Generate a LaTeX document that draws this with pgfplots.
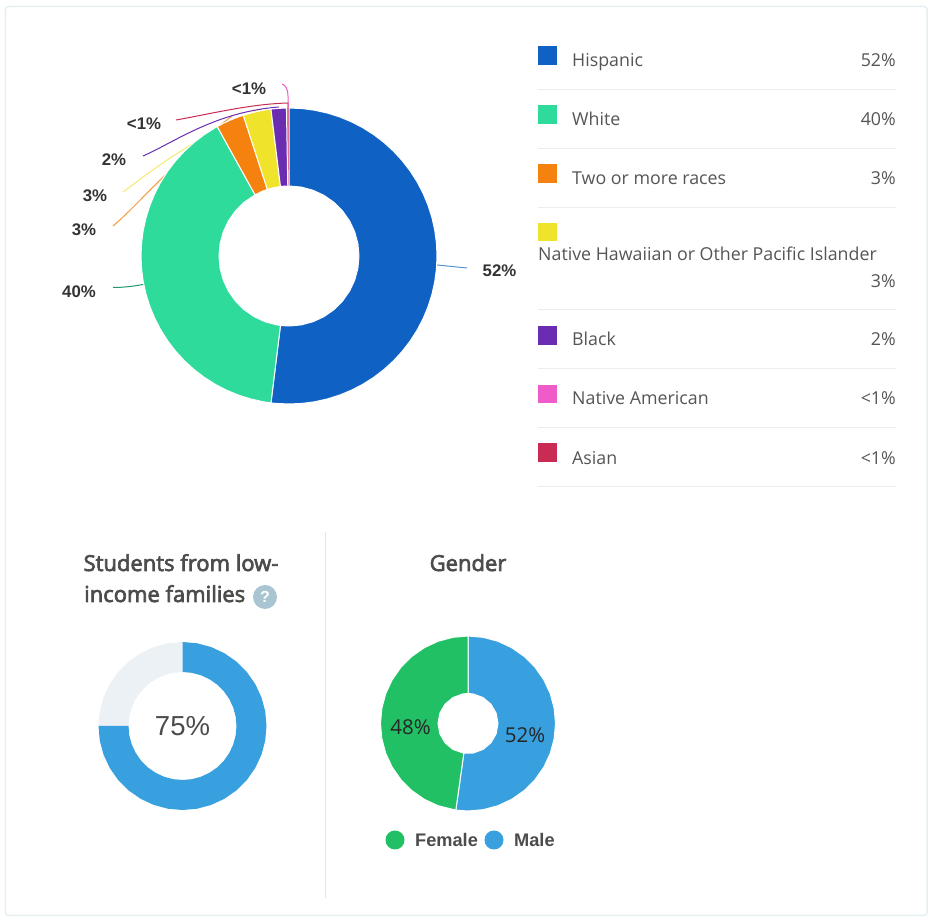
\documentclass[border=0pt]{standalone}
\usepackage{fontspec}
\usepackage{pgfplots}
\pgfplotsset{compat=1.18}
\usepgfplotslibrary{polar}
\setmainfont{Open Sans}
\newfontfamily\semi[FakeBold=3]{Open Sans}
\newfontfamily\lib{Liberation Sans}
\definecolor{chis}{HTML}{0F62C4}
\definecolor{cwhi}{HTML}{2EDB9B}
\definecolor{ctwo}{HTML}{F5820F}
\definecolor{cnat}{HTML}{F0E32C}
\definecolor{cbla}{HTML}{6A2CB0}
\definecolor{cama}{HTML}{EF5BC8}
\definecolor{casi}{HTML}{C92B55}
\definecolor{cblue}{HTML}{38A0DE}
\definecolor{cgreen}{HTML}{22C065}
\definecolor{cgrey}{HTML}{EBF1F4}
\definecolor{ctext}{HTML}{555555}
\definecolor{csep}{HTML}{ECEEEE}
\pgfplotsset{donut/.style={scale only axis, hide axis, clip=false, xmin=0, xmax=360, ymin=0, xtick=\empty, ytick=\empty, anchor=center},
 slice/.style={no markers, draw=white, line width=1bp, fill=#1}}
\newcommand{\fs}[1]{\fontsize{#1bp}{#1bp}\selectfont}
\begin{document}
\begin{tikzpicture}
\fill[white] (0,0) rectangle (929bp,918bp);
\begin{scope}[x=1bp,y=-1bp,yshift=918bp]
% card
\draw[color={rgb,255:red,230;green,240;blue,243},line width=1.5bp,rounded corners=3bp] (5.5,6.5) rectangle (927,915.5);
\draw[color={rgb,255:red,227;green,230;blue,232},line width=1bp] (325,532) -- (325,898);
% leader lines
\draw[cwhi!70!black,line width=1bp] (113,287.5) .. controls (125,287.5) and (135,286) .. (146,284);
\draw[chis!70!white,line width=1bp] (437,265) -- (467,268);
\draw[ctwo!80!white,line width=1bp] (113,226) .. controls (135,208) and (175,160) .. (232,116);
\draw[cnat!70!white,line width=1bp] (123,192) .. controls (150,172) and (190,140) .. (258,110);
\draw[cbla,line width=1bp] (143,156) .. controls (175,142) and (215,112) .. (279,107);
\draw[casi,line width=1bp] (176,120) .. controls (210,114) and (250,104) .. (288,103) -- (288,108);
\draw[cama,line width=1bp] (282,84) .. controls (286,85) and (288,90) .. (288,96) -- (288,108);
% leader labels
\begin{scope}[every node/.style={inner sep=0pt,text=black!80,font=\lib\bfseries\fs{16.8}}]
\node at (249,89) {<1\%};
\node at (144,124) {<1\%};
\node at (114,160) {2\%};
\node at (95,196) {3\%};
\node at (84,230) {3\%};
\node at (79,292) {40\%};
\node at (499.5,270.5) {52\%};
\end{scope}
% legend
\fill[chis] (538,46) rectangle (557,65);
\fill[cwhi] (538,105) rectangle (557,124);
\fill[ctwo] (538,164) rectangle (557,183);
\fill[cnat] (538,223) rectangle (557,241);
\fill[cbla] (538,326) rectangle (557,345);
\fill[cama] (538,385) rectangle (557,403);
\fill[casi] (538,443) rectangle (557,462);
\foreach \y in {89.7,148.7,207.7,309.7,368.7,427.7,486.7} \draw[csep,line width=1bp] (538,\y) -- (896,\y);
\begin{scope}[every node/.style={inner sep=0pt,text=ctext,font=\fs{17.8}}]
\node[anchor=base west] at (572,66.5) {Hispanic};
\node[anchor=base east] at (896,66.5) {52\%};
\node[anchor=base west] at (572,125.5) {White};
\node[anchor=base east] at (896,125.5) {40\%};
\node[anchor=base west] at (572,184.5) {Two or more races};
\node[anchor=base east] at (896,184.5) {3\%};
\node[anchor=base west] at (538,260.5) {Native Hawaiian or Other Pacific Islander};
\node[anchor=base east] at (896,287.5) {3\%};
\node[anchor=base west] at (572,345.5) {Black};
\node[anchor=base east] at (896,345.5) {2\%};
\node[anchor=base west] at (572,404.5) {Native American};
\node[anchor=base east] at (896,404.5) {<1\%};
\node[anchor=base west] at (572,464.5) {Asian};
\node[anchor=base east] at (896,464.5) {<1\%};
\end{scope}
% titles
\begin{scope}[every node/.style={inner sep=0pt,text=black!70,font=\semi\fs{22}}]
\node[anchor=base] at (181,571) {Students from low-};
\node[anchor=base west] at (84,602) {income families};
\node[anchor=base] at (468,571) {Gender};
\end{scope}
\fill[color={rgb,255:red,169;green,197;blue,210}] (265,597) circle (12);
\node[text=white,font=\lib\bfseries\fs{16},inner sep=0pt] at (265,597) {?};
% gender legend
\fill[cgreen] (395,840) circle (9.5);
\fill[cblue] (494,840) circle (9.5);
\node[anchor=base west,inner sep=0pt,text=black!70,font=\lib\bfseries\fs{18.2}] at (415,847) {Female};
\node[anchor=base west,inner sep=0pt,text=black!70,font=\lib\bfseries\fs{18.2}] at (514,847) {Male};
\end{scope}
% ---- ethnicity donut, angle in degrees, radius in px
\begin{polaraxis}[donut, width=296bp, height=296bp, ymax=148, at={(289bp,662bp)}]
\addplot[slice=cama,draw=none] coordinates {(91,148)(90.5,148)(90.5,70)(91,70)} --cycle;
\addplot[slice=casi,draw=none] coordinates {(90.5,148)(90,148)(90,70)(90.5,70)} --cycle;
\addplot[slice=chis] coordinates {(90,148)(85,148)(80,148)(75,148)(70,148)(65,148)(60,148)(55,148)(50,148)(45,148)(40,148)(35,148)(30,148)(25,148)(20,148)(15,148)(10,148)(5,148)(0,148)(-5,148)(-10,148)(-15,148)(-20,148)(-25,148)(-30,148)(-35,148)(-40,148)(-45,148)(-50,148)(-55,148)(-60,148)(-65,148)(-70,148)(-75,148)(-80,148)(-85,148)(-90,148)(-95,148)(-97,148)
(-97,70)(-90,70)(-80,70)(-70,70)(-60,70)(-50,70)(-40,70)(-30,70)(-20,70)(-10,70)(0,70)(10,70)(20,70)(30,70)(40,70)(50,70)(60,70)(70,70)(80,70)(90,70)} --cycle;
\addplot[slice=cwhi] coordinates {(-97,148)(-100,148)(-105,148)(-110,148)(-115,148)(-120,148)(-125,148)(-130,148)(-135,148)(-140,148)(-145,148)(-150,148)(-155,148)(-160,148)(-165,148)(-170,148)(-175,148)(-180,148)(-185,148)(-190,148)(-195,148)(-200,148)(-205,148)(-210,148)(-215,148)(-220,148)(-225,148)(-230,148)(-235,148)(-240,148)(-241,148)
(-241,70)(-230,70)(-220,70)(-210,70)(-200,70)(-190,70)(-180,70)(-170,70)(-160,70)(-150,70)(-140,70)(-130,70)(-120,70)(-110,70)(-100,70)(-97,70)} --cycle;
\addplot[slice=ctwo] coordinates {(119,148)(116,148)(113,148)(110,148)(108,148)(108,70)(113,70)(119,70)} --cycle;
\addplot[slice=cnat] coordinates {(108,148)(105,148)(102,148)(99,148)(97,148)(97,70)(103,70)(108,70)} --cycle;
\addplot[slice=cbla] coordinates {(97,148)(94,148)(91,148)(91,70)(94,70)(97,70)} --cycle;
\end{polaraxis}
% ---- low-income donut
\begin{polaraxis}[donut, width=168bp, height=168bp, ymax=84, at={(182.5bp,192bp)}]
\addplot[no markers,draw=none,fill=cgrey] coordinates {(180,84)(170,84)(160,84)(150,84)(140,84)(130,84)(120,84)(110,84)(100,84)(90,84)(90,54)(100,54)(110,54)(120,54)(130,54)(140,54)(150,54)(160,54)(170,54)(180,54)} --cycle;
\addplot[no markers,draw=none,fill=cblue] coordinates {(90,84)(80,84)(70,84)(60,84)(50,84)(40,84)(30,84)(20,84)(10,84)(0,84)(-10,84)(-20,84)(-30,84)(-40,84)(-50,84)(-60,84)(-70,84)(-80,84)(-90,84)(-100,84)(-110,84)(-120,84)(-130,84)(-140,84)(-150,84)(-160,84)(-170,84)(-180,84)(-180,54)(-170,54)(-160,54)(-150,54)(-140,54)(-130,54)(-120,54)(-110,54)(-100,54)(-90,54)(-80,54)(-70,54)(-60,54)(-50,54)(-40,54)(-30,54)(-20,54)(-10,54)(0,54)(10,54)(20,54)(30,54)(40,54)(50,54)(60,54)(70,54)(80,54)(90,54)} --cycle;
\node[text=black!70,font=\lib\fs{27.5},inner sep=0pt] at (axis cs:0,0) {75\%};
\end{polaraxis}
% ---- gender donut
\begin{polaraxis}[donut, width=175bp, height=175bp, ymax=87.5, at={(468bp,194.5bp)}]
\addplot[slice=cblue] coordinates {(90,87.5)(80,87.5)(70,87.5)(60,87.5)(50,87.5)(40,87.5)(30,87.5)(20,87.5)(10,87.5)(0,87.5)(-10,87.5)(-20,87.5)(-30,87.5)(-40,87.5)(-50,87.5)(-60,87.5)(-70,87.5)(-80,87.5)(-90,87.5)(-98,87.5)(-98,30)(-80,30)(-60,30)(-40,30)(-20,30)(0,30)(20,30)(40,30)(60,30)(80,30)(90,30)} --cycle;
\addplot[slice=cgreen] coordinates {(90,87.5)(100,87.5)(110,87.5)(120,87.5)(130,87.5)(140,87.5)(150,87.5)(160,87.5)(170,87.5)(180,87.5)(190,87.5)(200,87.5)(210,87.5)(220,87.5)(230,87.5)(240,87.5)(250,87.5)(262,87.5)(262,30)(240,30)(220,30)(200,30)(180,30)(160,30)(140,30)(120,30)(100,30)(90,30)} --cycle;
\end{polaraxis}
\begin{scope}[x=1bp,y=-1bp,yshift=918bp]
\node[text=black!85,font=\fs{20.5},inner sep=0pt] at (410.5,727) {48\%};
\node[text=black!85,font=\fs{20.5},inner sep=0pt] at (525,735) {52\%};
\end{scope}
\end{tikzpicture}
\end{document}
